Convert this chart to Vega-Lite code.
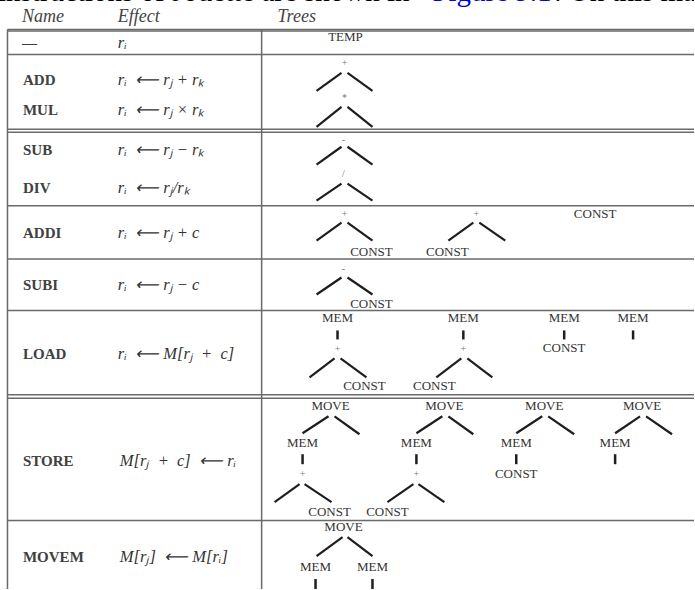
{
  "$schema": "https://vega.github.io/schema/vega-lite/v6.json",
  "width": 695,
  "height": 590,
  "autosize": {"type": "fit", "contains": "padding"},
  "padding": 0,
  "background": "white",
  "config": {"view": {"stroke": null}},
  "datasets": {
    "grid": [
      {"x": 7.5, "y": 29.5, "x2": 695, "y2": 29.5},
      {"x": 7.5, "y": 31, "x2": 695, "y2": 31},
      {"x": 7.5, "y": 29.5, "x2": 7.5, "y2": 590},
      {"x": 262, "y": 29.5, "x2": 262, "y2": 590},
      {"x": 7.5, "y": 54.5, "x2": 695, "y2": 54.5},
      {"x": 7.5, "y": 129.5, "x2": 695, "y2": 129.5},
      {"x": 7.5, "y": 132.5, "x2": 695, "y2": 132.5},
      {"x": 7.5, "y": 206, "x2": 695, "y2": 206},
      {"x": 7.5, "y": 259.5, "x2": 695, "y2": 259.5},
      {"x": 7.5, "y": 311, "x2": 695, "y2": 311},
      {"x": 7.5, "y": 395.5, "x2": 695, "y2": 395.5},
      {"x": 7.5, "y": 399, "x2": 695, "y2": 399},
      {"x": 7.5, "y": 521.5, "x2": 695, "y2": 521.5}
    ],
    "branches": [
      {"x": 317, "y": 91, "x2": 342, "y2": 73},
      {"x": 348, "y": 73, "x2": 373, "y2": 91},
      {"x": 317, "y": 127, "x2": 342, "y2": 107},
      {"x": 348, "y": 107, "x2": 373, "y2": 127},
      {"x": 317, "y": 165, "x2": 342, "y2": 147},
      {"x": 348, "y": 147, "x2": 373, "y2": 165},
      {"x": 317, "y": 201, "x2": 342, "y2": 184},
      {"x": 348, "y": 184, "x2": 373, "y2": 201},
      {"x": 317, "y": 241, "x2": 342, "y2": 223},
      {"x": 348, "y": 223, "x2": 373, "y2": 241},
      {"x": 449, "y": 241, "x2": 474, "y2": 223},
      {"x": 480, "y": 223, "x2": 506, "y2": 241},
      {"x": 317, "y": 295, "x2": 342, "y2": 278},
      {"x": 348, "y": 278, "x2": 373, "y2": 295},
      {"x": 310, "y": 378, "x2": 335, "y2": 359},
      {"x": 341, "y": 359, "x2": 367, "y2": 378},
      {"x": 437, "y": 378, "x2": 462, "y2": 359},
      {"x": 468, "y": 359, "x2": 493, "y2": 378},
      {"x": 303, "y": 434, "x2": 329, "y2": 417},
      {"x": 335, "y": 417, "x2": 360, "y2": 435},
      {"x": 275, "y": 503, "x2": 300, "y2": 485},
      {"x": 305, "y": 485, "x2": 332, "y2": 503},
      {"x": 417, "y": 434, "x2": 443, "y2": 417},
      {"x": 449, "y": 417, "x2": 474, "y2": 435},
      {"x": 388, "y": 503, "x2": 414, "y2": 485},
      {"x": 419, "y": 485, "x2": 445, "y2": 503},
      {"x": 517, "y": 434, "x2": 543, "y2": 417},
      {"x": 549, "y": 417, "x2": 575, "y2": 435},
      {"x": 616, "y": 434, "x2": 641, "y2": 417},
      {"x": 647, "y": 417, "x2": 673, "y2": 435},
      {"x": 317, "y": 557, "x2": 343, "y2": 538},
      {"x": 348, "y": 538, "x2": 373, "y2": 557}
    ],
    "bars": [
      {"x": 338, "y": 331, "x2": 338, "y2": 340},
      {"x": 464, "y": 331, "x2": 464, "y2": 340},
      {"x": 565, "y": 331, "x2": 565, "y2": 340},
      {"x": 634, "y": 331, "x2": 634, "y2": 340},
      {"x": 303, "y": 455, "x2": 303, "y2": 465},
      {"x": 417, "y": 455, "x2": 417, "y2": 465},
      {"x": 517, "y": 455, "x2": 517, "y2": 465},
      {"x": 616, "y": 455, "x2": 616, "y2": 465},
      {"x": 316, "y": 580, "x2": 316, "y2": 592},
      {"x": 373, "y": 580, "x2": 373, "y2": 592}
    ],
    "nodes": [
      {"x": 346, "y": 37, "t": "TEMP"},
      {"x": 372, "y": 252, "t": "CONST"},
      {"x": 448, "y": 252, "t": "CONST"},
      {"x": 596, "y": 214, "t": "CONST"},
      {"x": 372, "y": 305, "t": "CONST"},
      {"x": 338, "y": 319, "t": "MEM"},
      {"x": 365, "y": 387, "t": "CONST"},
      {"x": 464, "y": 319, "t": "MEM"},
      {"x": 435, "y": 387, "t": "CONST"},
      {"x": 565, "y": 319, "t": "MEM"},
      {"x": 565, "y": 349, "t": "CONST"},
      {"x": 634, "y": 319, "t": "MEM"},
      {"x": 331, "y": 407, "t": "MOVE"},
      {"x": 303, "y": 444, "t": "MEM"},
      {"x": 330, "y": 513, "t": "CONST"},
      {"x": 445, "y": 407, "t": "MOVE"},
      {"x": 417, "y": 444, "t": "MEM"},
      {"x": 388, "y": 513, "t": "CONST"},
      {"x": 545, "y": 407, "t": "MOVE"},
      {"x": 517, "y": 444, "t": "MEM"},
      {"x": 517, "y": 475, "t": "CONST"},
      {"x": 643, "y": 407, "t": "MOVE"},
      {"x": 616, "y": 444, "t": "MEM"},
      {"x": 344, "y": 528, "t": "MOVE"},
      {"x": 316, "y": 568, "t": "MEM"},
      {"x": 373, "y": 568, "t": "MEM"}
    ],
    "ops": [
      {"x": 345, "y": 63, "t": "+"},
      {"x": 345, "y": 98, "t": "*"},
      {"x": 344, "y": 140, "t": "-"},
      {"x": 344, "y": 174, "t": "/"},
      {"x": 345, "y": 214, "t": "+"},
      {"x": 477, "y": 214, "t": "+"},
      {"x": 344, "y": 269, "t": "-"},
      {"x": 338, "y": 350, "t": "+"},
      {"x": 464, "y": 350, "t": "+"},
      {"x": 303, "y": 475, "t": "+"},
      {"x": 417, "y": 475, "t": "+"}
    ],
    "names": [
      {"x": 22, "y": 43, "t": "—"},
      {"x": 23, "y": 80, "t": "ADD"},
      {"x": 23, "y": 110, "t": "MUL"},
      {"x": 23, "y": 150, "t": "SUB"},
      {"x": 23, "y": 188, "t": "DIV"},
      {"x": 23, "y": 233, "t": "ADDI"},
      {"x": 23, "y": 285, "t": "SUBI"},
      {"x": 23, "y": 355, "t": "LOAD"},
      {"x": 23, "y": 462, "t": "STORE"},
      {"x": 23, "y": 558, "t": "MOVEM"}
    ],
    "effects": [
      {"x": 118, "y": 43, "t": "r\u1d62"},
      {"x": 118, "y": 80, "t": "r\u1d62\u2002\u27f5 r\u2c7c + r\u2096"},
      {"x": 118, "y": 110, "t": "r\u1d62\u2002\u27f5 r\u2c7c \u00d7 r\u2096"},
      {"x": 118, "y": 150, "t": "r\u1d62\u2002\u27f5 r\u2c7c \u2212 r\u2096"},
      {"x": 118, "y": 188, "t": "r\u1d62\u2002\u27f5 r\u2c7c/r\u2096"},
      {"x": 118, "y": 233, "t": "r\u1d62\u2002\u27f5 r\u2c7c + c"},
      {"x": 118, "y": 285, "t": "r\u1d62\u2002\u27f5 r\u2c7c \u2212 c"},
      {"x": 118, "y": 355, "t": "r\u1d62\u2002\u27f5 M[r\u2c7c\u2002+\u2002c]"},
      {"x": 120, "y": 462, "t": "M[r\u2c7c\u2002+\u2002c]\u2002\u27f5 r\u1d62"},
      {"x": 120, "y": 558, "t": "M[r\u2c7c]\u2002\u27f5 M[r\u1d62]"}
    ],
    "headers": [
      {"x": 22, "y": 17, "t": "Name"},
      {"x": 118, "y": 17, "t": "Effect"},
      {"x": 278, "y": 17, "t": "Trees"}
    ],
    "topline": [
      {"x": -2, "y": 1.5, "t": "instructions of Jouette are shown in"},
      {"x": 555, "y": 1.5, "t": ". On this machine"}
    ],
    "toplink": [
      {"x": 433, "y": 1.5, "t": "Figure 9.1"}
    ]
  },
  "encoding": {
    "x": {"field": "x", "type": "quantitative", "scale": {"domain": [0, 695], "nice": false, "zero": false}, "axis": null},
    "y": {"field": "y", "type": "quantitative", "scale": {"domain": [0, 590], "nice": false, "zero": false, "reverse": true}, "axis": null}
  },
  "layer": [
    {
      "data": {"name": "grid"},
      "mark": {"type": "rule", "stroke": "#6a6a6a", "strokeWidth": 1.5},
      "encoding": {"x2": {"field": "x2"}, "y2": {"field": "y2"}}
    },
    {
      "data": {"name": "branches"},
      "mark": {"type": "rule", "stroke": "#1e1e1e", "strokeWidth": 2.2, "strokeCap": "butt"},
      "encoding": {"x2": {"field": "x2"}, "y2": {"field": "y2"}}
    },
    {
      "data": {"name": "bars"},
      "mark": {"type": "rule", "stroke": "#1e1e1e", "strokeWidth": 2.5, "clip": true},
      "encoding": {"x2": {"field": "x2"}, "y2": {"field": "y2"}}
    },
    {
      "data": {"name": "nodes"},
      "mark": {"type": "text", "font": "Liberation Serif", "fontSize": 13, "fill": "#333333", "align": "center", "baseline": "middle"},
      "encoding": {"text": {"field": "t"}}
    },
    {
      "data": {"name": "ops"},
      "mark": {"type": "text", "font": "Liberation Serif", "fontSize": 10, "fill": "#777777", "align": "center", "baseline": "middle"},
      "encoding": {"text": {"field": "t"}}
    },
    {
      "data": {"name": "names"},
      "mark": {"type": "text", "font": "Liberation Serif", "fontSize": 15, "fontWeight": "bold", "fill": "#404040", "align": "left", "baseline": "middle"},
      "encoding": {"text": {"field": "t"}}
    },
    {
      "data": {"name": "effects"},
      "mark": {"type": "text", "font": "Liberation Serif", "fontStyle": "italic", "fontSize": 16.5, "fill": "#333333", "align": "left", "baseline": "middle"},
      "encoding": {"text": {"field": "t"}}
    },
    {
      "data": {"name": "headers"},
      "mark": {"type": "text", "font": "Liberation Serif", "fontStyle": "italic", "fontSize": 18, "fill": "#444444", "align": "left", "baseline": "middle"},
      "encoding": {"text": {"field": "t"}}
    },
    {
      "data": {"name": "topline"},
      "mark": {"type": "text", "font": "Liberation Serif", "fontSize": 29, "fill": "#000000", "align": "left", "baseline": "alphabetic", "clip": true},
      "encoding": {"text": {"field": "t"}}
    },
    {
      "data": {"name": "toplink"},
      "mark": {"type": "text", "font": "Liberation Serif", "fontSize": 29, "fill": "#0000ee", "align": "left", "baseline": "alphabetic", "clip": true},
      "encoding": {"text": {"field": "t"}}
    }
  ]
}
